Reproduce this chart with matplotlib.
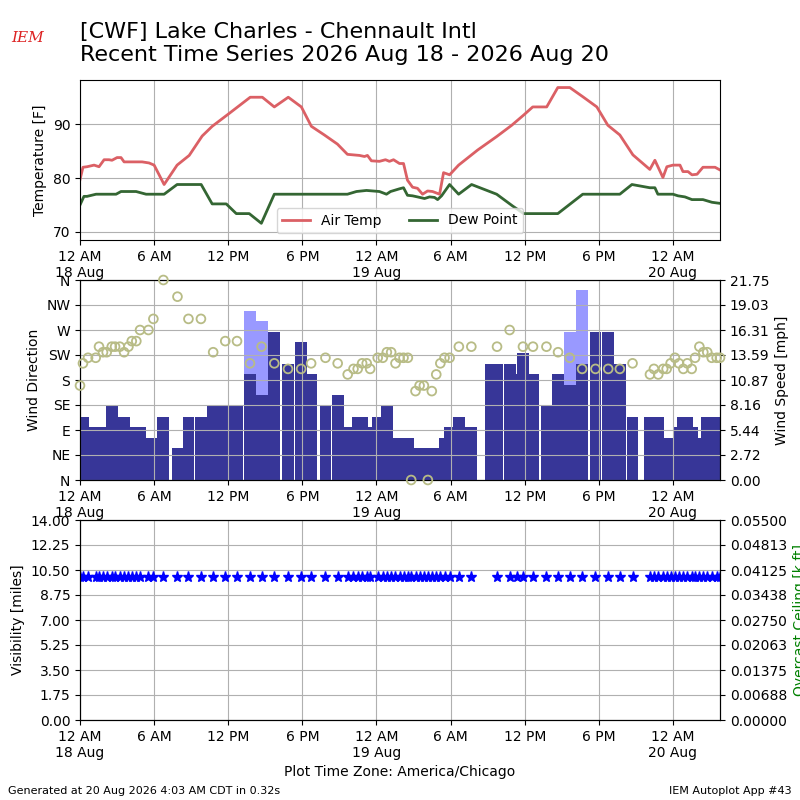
import numpy as np
from matplotlib import pyplot as plt
from matplotlib.ticker import FixedLocator, FormatStrFormatter

# all times are hours after 12 AM 18 Aug (America/Chicago)
temp_hours = [0.00, 0.24, 0.57, 1.14, 1.54, 1.95, 2.35, 2.59, 3.00, 3.32, 3.57, 5.03,
              5.59, 6.00, 6.81, 7.86, 8.84, 9.89, 10.70, 12.08, 13.78, 14.76, 15.73,
              16.86, 17.92, 18.73, 19.78, 20.84, 21.65, 22.62, 23.03, 23.27, 23.59,
              24.24, 24.73, 25.05, 25.38, 25.86, 26.19, 26.51, 26.92, 27.32, 27.73,
              28.14, 28.54, 29.11, 29.43, 29.92, 30.65, 32.19, 33.73, 34.95, 35.92,
              36.65, 37.78, 38.68, 39.65, 40.70, 41.84, 42.73, 43.70, 44.76, 46.13,
              46.54, 47.19, 47.51, 48.00, 48.57, 48.81, 49.22, 49.54, 49.95, 50.43,
              51.41, 51.81]
temp_f = [79.7, 82.0, 82.1, 82.4, 82.1, 83.4, 83.4, 83.3, 83.8, 83.8, 83.0, 83.0,
          82.8, 82.4, 78.8, 82.4, 84.2, 87.8, 89.6, 92.0, 95.0, 95.0, 93.2,
          95.0, 93.2, 89.6, 88.0, 86.3, 84.4, 84.2, 84.0, 84.2, 83.2,
          83.1, 83.4, 83.1, 83.4, 82.7, 82.7, 79.6, 78.3, 78.1, 77.0,
          77.6, 77.5, 77.0, 81.0, 80.6, 82.4, 85.2, 87.7, 89.8, 91.7,
          93.2, 93.2, 96.8, 96.8, 95.1, 93.2, 89.8, 88.0, 84.3, 81.6,
          83.3, 80.1, 82.1, 82.4, 82.4, 81.2, 81.2, 80.6, 80.7, 82.0,
          82.0, 81.5]

dew_hours = [0.00, 0.32, 0.57, 1.30, 2.92, 3.32, 4.54, 5.35, 6.81, 7.86, 9.81, 10.70,
             11.84, 12.65, 13.70, 14.68, 15.73, 21.65, 22.38, 23.19, 24.24, 24.81,
             25.14, 25.86, 26.19, 26.51, 26.92, 27.32, 27.89, 28.30, 28.70, 28.95,
             29.27, 29.92, 30.65, 31.70, 33.73, 35.03, 35.92, 38.68, 40.70, 43.70,
             44.68, 46.13, 46.54, 46.78, 48.00, 48.41, 48.97, 49.54, 50.43, 51.16,
             51.81]
dew_f = [75.0, 76.6, 76.6, 77.0, 77.0, 77.5, 77.5, 77.0, 77.0, 78.8, 78.8, 75.2,
         75.2, 73.4, 73.4, 71.6, 77.0, 77.0, 77.5, 77.7, 77.5, 77.0,
         77.5, 78.0, 78.2, 76.8, 76.7, 76.5, 76.2, 76.5, 76.4, 76.0,
         76.7, 78.8, 77.0, 78.8, 77.0, 74.8, 73.4, 73.4, 77.0, 77.0,
         78.8, 78.2, 78.2, 77.0, 77.0, 76.7, 76.5, 76.0, 76.0, 75.5,
         75.3]

obs_hours = [0.00, 0.24, 0.65, 1.27, 1.54, 1.86, 2.16, 2.57, 2.84, 3.22, 3.57, 3.92,
             4.19, 4.56, 4.86, 5.54, 5.94, 6.75, 7.89, 8.78, 9.79, 10.78, 11.76,
             12.71, 13.76, 14.70, 15.73, 16.84, 17.90, 18.71, 19.87, 20.86, 21.67,
             22.14, 22.48, 22.84, 23.21, 23.49, 24.10, 24.51, 24.84, 25.19, 25.54,
             25.87, 26.19, 26.54, 26.81, 27.16, 27.49, 27.84, 28.16, 28.48, 28.84,
             29.17, 29.51, 29.92, 30.67, 31.68, 33.24, 33.76, 34.78, 35.34, 35.86,
             36.67, 37.76, 38.70, 39.65, 40.65, 41.73, 42.76, 43.70, 44.73, 46.14,
             46.46, 46.81, 47.21, 47.49, 47.81, 48.16, 48.49, 48.84, 49.16, 49.52,
             49.79, 50.14, 50.46, 50.78, 51.14, 51.54, 51.81]
wind_dir = [170, 210, 220, 220, 240, 230, 230, 240, 240, 240, 230, 240,
            250, 250, 270, 270, 290, 360, 330, 290, 290, 230, 250,
            250, 210, 240, 210, 200, 200, 210, 220, 210, 190,
            200, 200, 210, 210, 200, 220, 220, 230, 230, 210,
            220, 220, 220, 0, 160, 170, 170, 0, 160, 190,
            210, 220, 220, 240, 240, np.nan, 240, 270, np.nan, 240,
            240, 240, 230, 220, 200, 200, 200, 200, 210, 190,
            200, 190, 200, 200, 210, 220, 210, 200, 210, 200,
            220, 240, 230, 230, 220, 220, 220]
wind_kt = [6, 6, 5, 5, 5, 5, 4, 7, 5, 6, 6, 5,
           4, 5, 5, 4, 4, 6, 3, 6, 6, 7, 7,
           7, 10, 8, 14, 11, 13, 10, 7, 8, 5,
           5, 6, 6, 5, 5, 6, 6, 7, 4, 3,
           4, 3, 4, 0, 3, 3, 3, 0, 3, 3,
           3, 4, 5, 6, 5, 11, 11, 11, 10, 12,
           10, 7, 10, 9, 11, 14, 14, 11, 6, 6,
           6, 6, 4, 3, 4, 4, 5, 6, 6, 5,
           4, 4, 4, 6, 5, 6, 6]
gust_kt = [np.nan] * 24 + [16, 15] + [np.nan] * 40 + [14, 18] + [np.nan] * 22
vis_miles = [10.0] * 58 + [np.nan] + [10.0] * 31

tick_hours = [0, 6, 12, 18, 24, 30, 36, 42, 48]
tick_labels = ['12 AM\n18 Aug', '6 AM', '12 PM', '6 PM', '12 AM\n19 Aug',
               '6 AM', '12 PM', '6 PM', '12 AM\n20 Aug']
dir_labels = ['N', 'NE', 'E', 'SE', 'S', 'SW', 'W', 'NW', 'N']

obs_hours = np.array(obs_hours)
wind_dir = np.array(wind_dir, dtype=float)
speed_mph = np.array(wind_kt) * 1.15078
gust_mph = np.array(gust_kt) * 1.15078
vis_miles = np.array(vis_miles)
xmax = obs_hours[-1]

fig = plt.figure(figsize=(8, 8), dpi=100)
fig.text(0.1, 0.919, '[CWF] Lake Charles - Chennault Intl\n'
         'Recent Time Series 2026 Aug 18 - 2026 Aug 20', fontsize=16, va='bottom')
fig.text(0.035, 0.952, 'IEM', color='#dd2222', fontsize=11, style='italic',
         family='DejaVu Serif', ha='center', va='center')
fig.text(0.01, 0.008, 'Generated at 20 Aug 2026 4:03 AM CDT in 0.32s', fontsize=8)
fig.text(0.99, 0.008, 'IEM Autoplot App #43', fontsize=8, ha='right')


def time_axis(ax):
  ax.set_xlim(0, xmax)
  ax.xaxis.set_major_locator(FixedLocator(tick_hours))
  ax.set_xticklabels(tick_labels)
  ax.grid(True)


# temperature
ax = fig.add_axes([0.1, 0.7, 0.8, 0.2])
ax.plot(temp_hours, temp_f, lw=2, color='#db6065', label='Air Temp')
ax.plot(dew_hours, dew_f, lw=2, color='#346633', label='Dew Point')
ax.set_ylim(68.5, 98.2)
ax.set_yticks([70, 80, 90])
ax.set_ylabel('Temperature [F]')
ax.legend(loc='lower center', ncol=2)
time_axis(ax)

# wind
ax = fig.add_axes([0.1, 0.4, 0.8, 0.25])
ax2 = ax.twinx()
has_gust = ~np.isnan(gust_mph)
ax2.bar(obs_hours[has_gust], gust_mph[has_gust], width=24 / 25., color='#9999ff', ec='None')
ax2.bar(obs_hours, speed_mph, width=24 / 25., color='#373698', ec='None')
ymax = np.nanmax(gust_mph) * 1.05
ax2.set_ylim(0, ymax)
ax2.set_yticks(np.linspace(0, ymax, 9))
ax2.yaxis.set_major_formatter(FormatStrFormatter('%.2f'))
ax2.set_ylabel('Wind Speed [mph]')
has_dir = ~np.isnan(wind_dir)
ax.scatter(obs_hours[has_dir], wind_dir[has_dir], s=40, facecolor='None',
           edgecolor='#b8bc86', lw=1.3, zorder=5, clip_on=False)
ax.set_zorder(ax2.get_zorder() + 1)
ax.patch.set_visible(False)
ax.set_ylim(0, 360)
ax.set_yticks(range(0, 361, 45))
ax.set_yticklabels(dir_labels)
ax.set_ylabel('Wind Direction')
time_axis(ax)

# visibility and ceiling
ax = fig.add_axes([0.1, 0.1, 0.8, 0.25])
ax.plot(obs_hours, vis_miles, '*', color='b', ms=8)
ax.set_ylim(0, 14)
ax.set_yticks(np.linspace(0, 14, 9))
ax.yaxis.set_major_formatter(FormatStrFormatter('%.2f'))
ax.set_ylabel('Visibility [miles]')
ax.set_xlabel('Plot Time Zone: America/Chicago')
time_axis(ax)
ax2 = ax.twinx()
ax2.set_ylim(0, 0.055)
ax2.set_yticks(np.linspace(0, 0.055, 9))
ax2.yaxis.set_major_formatter(FormatStrFormatter('%.5f'))
ax2.set_ylabel('Overcast Ceiling [k ft]', color='g')

fig.savefig('out.png')
